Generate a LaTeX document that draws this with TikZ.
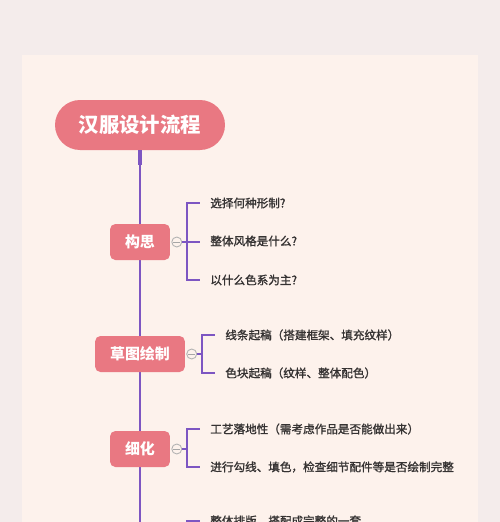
\documentclass[tikz,border=0pt]{standalone}
\usepackage{fontspec}
\newfontfamily\cjk{Noto Sans CJK SC}
\newfontfamily\cjkmid[FakeBold=1.4]{Noto Sans CJK SC}
\definecolor{outerbg}{HTML}{F4ECEB}
\definecolor{panelbg}{HTML}{FDF2EC}
\definecolor{rose}{HTML}{E97882}
\definecolor{spine}{HTML}{7D56C2}
\definecolor{ink}{HTML}{353232}

\begin{document}
\begin{tikzpicture}[x=0.02cm,y=-0.02cm,
    stage/.style={fill=rose,text=white,rounded corners=3pt,minimum height=0.72cm,
      inner xsep=0.3cm,font=\cjk\bfseries\fontsize{8.5}{10}\selectfont},
    item/.style={anchor=west,inner xsep=0.2cm,inner ysep=0pt,text=ink,
      font=\cjkmid\fontsize{6.6}{8}\selectfont},
    fold/.style={circle,draw=gray!60,fill=panelbg,minimum size=0.2cm,inner sep=0pt,line width=0.5pt},
    twig/.style={draw=spine,line width=0.7pt}]
    \clip (0,0) rectangle (500,522);
    \fill[outerbg] (0,0) rectangle (500,522);
    \fill[panelbg] (22,55) rectangle (478,530);

    % root
    \node[fill=rose,text=white,rounded corners=0.5cm,minimum width=3.4cm,minimum height=1cm,
      font=\cjk\bfseries\fontsize{11.6}{13}\selectfont] (title) at (140,125) {汉服设计流程};
    \draw[spine,line width=1.1pt] (title.south) -- (140,530);
    \draw[spine,line width=2.6pt] (title.south) -- ++(0,15);

    % stages
    \node[stage] (gs) at (140,242) {构思};
    \node[stage] (ct) at (140,354) {草图绘制};
    \node[stage] (xh) at (140,449) {细化};

    \node[fold] (c1) at ([xshift=0.13cm]gs.east) {};
    \node[fold] (c2) at ([xshift=0.13cm]ct.east) {};
    \node[fold] (c3) at ([xshift=0.13cm]xh.east) {};
    \foreach \c in {c1,c2,c3}
      \draw[gray!70,line width=0.5pt] ([xshift=-2pt]\c.center) -- ([xshift=2pt]\c.center);

    % items
    \node[item] (i11) at (200,203) {选择何种形制?};
    \node[item] (i12) at (200,241) {整体风格是什么?};
    \node[item] (i13) at (200,280) {以什么色系为主?};
    \node[item] (i21) at (215,335) {线条起稿（搭建框架、填充纹样）};
    \node[item] (i22) at (215,373) {色块起稿（纹样、整体配色）};
    \node[item] (i31) at (200,429) {工艺落地性（需考虑作品是否能做出来）};
    \node[item] (i32) at (200,467) {进行勾线、填色，检查细节配件等是否绘制完整};
    \node[item] (i41) at (200,521) {整体排版，搭配成完整的一套};

    \coordinate (b1) at (187,242);
    \coordinate (b2) at (202,354);
    \coordinate (b3) at (187,449);
    \coordinate (b4) at (187,521);

    \draw[twig] (c1) -- (b1);
    \draw[twig] (i11.west) -| (b1) |- (i13.west);
    \draw[twig] (b1) -- (b1 -| i12.west);
    \draw[twig] (c2) -- (b2);
    \draw[twig] (i21.west) -| (b2) |- (i22.west);
    \draw[twig] (c3) -- (b3);
    \draw[twig] (i31.west) -| (b3) |- (i32.west);
    \draw[twig] (i41.west) -| (b4) -- ++(0,15);
\end{tikzpicture}
\end{document}
